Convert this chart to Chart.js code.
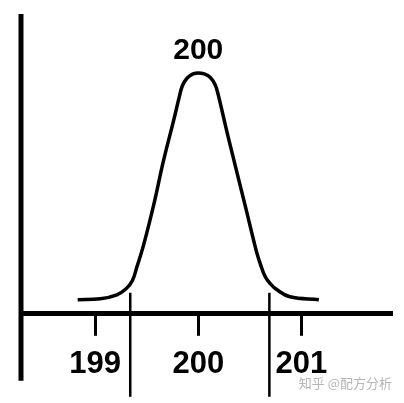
<!DOCTYPE html>
<html>
<head>
<meta charset="utf-8">
<script src="https://cdn.jsdelivr.net/npm/chart.js@4"></script>
<style>
  html, body { margin: 0; padding: 0; background: #fff; }
  #wrap { width: 404px; height: 403px; }
</style>
</head>
<body>
<div id="wrap"><canvas id="bellChart"></canvas></div>
<script>
// curve
const curveX = [198.83, 199.05, 199.21, 199.30, 199.36, 199.405, 199.47, 199.57, 199.66, 199.76, 199.816, 199.845, 199.893, 199.95, 200.00,
                200.058, 200.117, 200.165, 200.194, 200.29, 200.456, 200.563, 200.602, 200.65, 200.70, 200.764, 200.89, 201.17];
const curveY = [14, 15, 19, 25, 33, 47, 69, 110, 152, 193, 217, 228, 236, 240, 241,
                240, 236.5, 229, 219, 177, 108, 63, 50, 37, 30, 24, 17, 14];

// vertical limit lines
const limitX = [199.34, 200.69];
const limitTop = 21;
const limitBottom = -83;

const tickValues = [199, 200, 201];
const tickLabels = ['199', '200', '201'];
const peakLabel = '200';
const watermark = '知乎 @配方分析';

document.addEventListener('DOMContentLoaded', function() {
    const ctx = document.getElementById('bellChart').getContext('2d');

    const curveData = curveX.map((x, i) => ({ x: x, y: curveY[i] }));
    const limitSets = limitX.map(x => ({
        data: [{ x: x, y: limitTop }, { x: x, y: limitBottom }],
        borderColor: '#000',
        borderWidth: 2.5,
        pointRadius: 0,
        clip: false
    }));

    // y axis line (runs past the x axis) + peak label + watermark
    const extras = {
        id: 'extras',
        afterDraw(chart) {
            const c = chart.ctx;
            const area = chart.chartArea;
            const xs = chart.scales.x;
            const ys = chart.scales.y;
            c.save();
            c.strokeStyle = '#000';
            c.lineWidth = 5;
            c.beginPath();
            c.moveTo(area.left, area.top);
            c.lineTo(area.left, area.bottom + 67);
            c.stroke();

            const peakIdx = curveY.indexOf(Math.max(...curveY));
            c.fillStyle = '#000';
            c.font = 'bold 30px "Liberation Sans", Arial, sans-serif';
            c.textAlign = 'center';
            c.textBaseline = 'middle';
            c.fillText(peakLabel, xs.getPixelForValue(curveX[peakIdx]), ys.getPixelForValue(curveY[peakIdx]) - 22);

            c.fillStyle = '#b5b5b5';
            c.font = '13px "Noto Sans CJK SC", sans-serif';
            c.textAlign = 'right';
            c.fillText(watermark, area.right, 383);
            c.restore();
        }
    };

    new Chart(ctx, {
        type: 'line',
        data: {
            datasets: [{
                data: curveData,
                borderColor: '#000',
                borderWidth: 3.5,
                pointRadius: 0,
                tension: 0.4,
                fill: false
            }].concat(limitSets)
        },
        options: {
            responsive: true,
            maintainAspectRatio: false,
            animation: false,
            layout: { padding: { left: 21, right: 12, top: 14, bottom: 10 } },
            plugins: {
                legend: { display: false },
                tooltip: { enabled: false }
            },
            scales: {
                x: {
                    type: 'linear',
                    min: 198.28,
                    max: 201.88,
                    afterBuildTicks: function(axis) {
                        axis.ticks = tickValues.map(v => ({ value: v }));
                    },
                    border: { display: true, color: '#000', width: 5 },
                    grid: {
                        display: true,
                        drawOnChartArea: false,
                        drawTicks: true,
                        tickLength: 22,
                        tickWidth: 3,
                        tickColor: '#000'
                    },
                    ticks: {
                        color: '#000',
                        padding: 10,
                        maxRotation: 0,
                        font: { family: '"Liberation Sans", Arial, sans-serif', size: 31, weight: 'bold' },
                        callback: function(value) {
                            const i = tickValues.indexOf(value);
                            return i >= 0 ? tickLabels[i] : '';
                        }
                    }
                },
                y: {
                    display: false,
                    min: 0,
                    max: 300
                }
            }
        },
        plugins: [extras]
    });
});
</script>
</body>
</html>
